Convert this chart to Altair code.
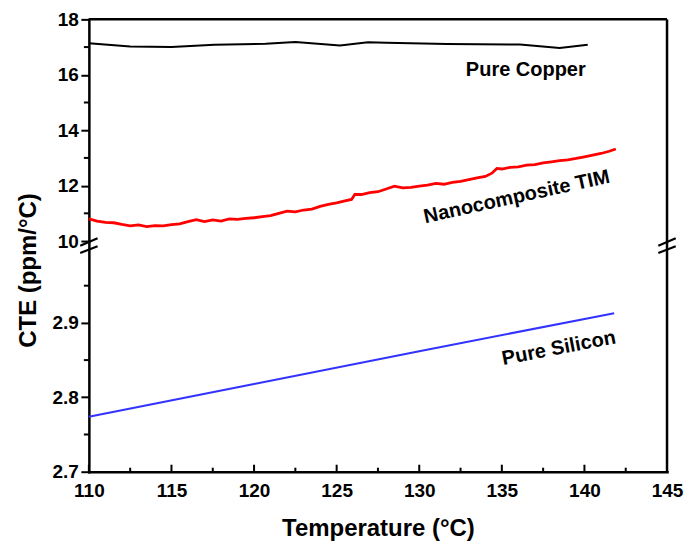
import altair as alt
import pandas as pd

FONT = "Liberation Sans, Arial, Helvetica, sans-serif"

# ---------------- data ----------------
temp_copper = [110.0, 112.5, 115.0, 117.6, 120.7, 122.5, 125.2, 126.9, 128.0, 131.7, 136.1, 138.5, 140.2]
cte_copper = [17.14, 17.02, 17.00, 17.08, 17.12, 17.18, 17.06, 17.17, 17.16, 17.11, 17.09, 16.97, 17.08]

temp_tim = [110.0, 110.5, 111.0, 111.5, 112.0, 112.5, 113.0, 113.5, 114.0, 114.5,
            115.0, 115.5, 116.0, 116.5, 117.0, 117.5, 118.0, 118.5, 119.0, 119.5,
            120.0, 120.5, 121.0, 121.5, 122.0, 122.5, 123.0, 123.5, 124.0, 124.5,
            125.0, 125.5, 125.9, 126.1, 126.5, 127.0, 127.5, 128.0, 128.5, 129.0,
            129.5, 130.0, 130.5, 131.0, 131.5, 132.0, 132.5, 133.0, 133.5, 134.0,
            134.4, 134.7, 135.0, 135.5, 136.0, 136.5, 137.0, 137.5, 138.0, 138.5,
            139.0, 139.5, 140.0, 140.5, 141.0, 141.5, 141.9]
cte_tim = [10.80, 10.72, 10.67, 10.66, 10.60, 10.55, 10.58, 10.52, 10.56, 10.55,
           10.59, 10.62, 10.70, 10.77, 10.70, 10.76, 10.72, 10.80, 10.78, 10.82,
           10.84, 10.88, 10.92, 11.00, 11.08, 11.05, 11.12, 11.15, 11.25, 11.32,
           11.38, 11.45, 11.50, 11.68, 11.68, 11.75, 11.78, 11.88, 11.98, 11.92,
           11.94, 11.98, 12.02, 12.08, 12.05, 12.12, 12.15, 12.22, 12.28, 12.33,
           12.45, 12.62, 12.60, 12.66, 12.68, 12.74, 12.76, 12.82, 12.86, 12.90,
           12.93, 12.98, 13.04, 13.10, 13.16, 13.24, 13.32]

temp_si = [110.0, 120.0, 130.0, 141.8]
cte_si = [2.774, 2.818, 2.862, 2.913]

x_major = [110, 115, 120, 125, 130, 135, 140, 145]
x_minor = [112.5, 117.5, 122.5, 127.5, 132.5, 137.5, 142.5]
y_up_major = [10, 12, 14, 16, 18]
y_up_minor = [11, 13, 15, 17]
y_lo_major = [2.7, 2.8, 2.9]
y_lo_minor = [2.75, 2.85, 2.95]

up_labels = ["Pure Copper", "Nanocomposite TIM"]
up_label_x = [136.45, 135.9]
up_label_y = [16.16, 11.59]
up_label_angle = [0, 347.6]

lo_labels = ["Pure Silicon"]
lo_label_x = [138.45]
lo_label_y = [2.866]
lo_label_angle = [349]

# ---------------- layout ----------------
W = 579
H1 = 222
H2 = 231

xscale = alt.Scale(domain=[110, 145], nice=False, zero=False)
yscale_up = alt.Scale(domain=[10, 18], nice=False, zero=False)
yscale_lo = alt.Scale(domain=[2.7, 3.01], nice=False, zero=False)

common_axis = dict(
    domainColor="black", domainWidth=2.5, domainCap="square",
    tickColor="black", tickWidth=2, tickSize=8,
    labelFont=FONT, labelFontSize=19, labelFontWeight="bold", labelColor="black",
    labelOverlap=False, grid=False,
)

yaxis_up = alt.Axis(values=y_up_major, format="d", title=None, labelPadding=2.5, **common_axis)
yaxis_lo = alt.Axis(values=y_lo_major, format=".1f", labelPadding=2.5,
                    title="CTE (ppm/°C)", titleFont=FONT, titleFontSize=24, titleFontWeight="bold",
                    titleColor="black", titleAngle=270, titleX=-53.5, titleY=29,
                    titleBaseline="alphabetic", titleAlign="center", **common_axis)
xaxis_lo = alt.Axis(values=x_major, format="d", labelPadding=10, labelFlush=False,
                    title="Temperature (°C)", titleFont=FONT, titleFontSize=24, titleFontWeight="bold",
                    titleColor="black", titleY=63.5, titleBaseline="alphabetic",
                    **{**common_axis, "tickSize": 0, "tickWidth": 0})

one = pd.DataFrame({"a": [0]})

# ---------------- upper panel ----------------
def xu(field="x"):
    return alt.X(f"{field}:Q", scale=xscale, axis=None)

def yu(field="y"):
    return alt.Y(f"{field}:Q", scale=yscale_up, axis=yaxis_up)

copper = alt.Chart(pd.DataFrame({"x": temp_copper, "y": cte_copper})).mark_line(
    color="black", strokeWidth=2).encode(x=xu(), y=yu())
tim = alt.Chart(pd.DataFrame({"x": temp_tim, "y": cte_tim})).mark_line(
    color="#ff0000", strokeWidth=2.8).encode(x=xu(), y=yu())
up_minor = alt.Chart(pd.DataFrame({"y": y_up_minor})).mark_rule(
    color="black", strokeWidth=2).encode(y=yu(), x=alt.value(-5), x2=alt.value(0))
top_border = alt.Chart(one).mark_rule(color="black", strokeWidth=2.5).encode(
    x=alt.value(0), x2=alt.value(W), y=alt.value(0))
right_border_up = alt.Chart(one).mark_rule(color="black", strokeWidth=2.5).encode(
    x=alt.value(W), y=alt.value(0), y2=alt.value(H1))
up_text = alt.Chart(pd.DataFrame({"x": up_label_x, "y": up_label_y, "t": up_labels,
                                  "ang": up_label_angle})).mark_text(
    font=FONT, fontSize=20, fontWeight="bold", color="black", align="center", baseline="middle"
).encode(x=xu(), y=yu(), text="t:N", angle=alt.Angle("ang:Q", scale=None))

upper = alt.layer(copper, tim, up_minor, top_border, right_border_up, up_text).properties(
    width=W, height=H1)

# ---------------- lower panel ----------------
def xl(field="x"):
    return alt.X(f"{field}:Q", scale=xscale, axis=xaxis_lo)

def yl(field="y"):
    return alt.Y(f"{field}:Q", scale=yscale_lo, axis=yaxis_lo)

si = alt.Chart(pd.DataFrame({"x": temp_si, "y": cte_si})).mark_line(
    color="#3333ff", strokeWidth=2).encode(x=xl(), y=yl())
lo_minor = alt.Chart(pd.DataFrame({"y": y_lo_minor})).mark_rule(
    color="black", strokeWidth=2).encode(y=yl(), x=alt.value(-5), x2=alt.value(0))
x_major_ticks = alt.Chart(pd.DataFrame({"x": x_major})).mark_rule(
    color="black", strokeWidth=2).encode(x=xl(), y=alt.value(H2), y2=alt.value(H2 - 7))
x_minor_ticks = alt.Chart(pd.DataFrame({"x": x_minor})).mark_rule(
    color="black", strokeWidth=2).encode(x=xl(), y=alt.value(H2), y2=alt.value(H2 - 4))
right_border_lo = alt.Chart(one).mark_rule(color="black", strokeWidth=2.5).encode(
    x=alt.value(W), y=alt.value(0), y2=alt.value(H2))
lo_text = alt.Chart(pd.DataFrame({"x": lo_label_x, "y": lo_label_y, "t": lo_labels,
                                  "ang": lo_label_angle})).mark_text(
    font=FONT, fontSize=20, fontWeight="bold", color="black", align="center", baseline="middle"
).encode(x=xl(), y=yl(), text="t:N", angle=alt.Angle("ang:Q", scale=None))

# axis-break slashes (decoration)
def slash(x0, y0, x1, y1):
    return alt.Chart(one).mark_rule(color="black", strokeWidth=2.2).encode(
        x=alt.value(x0), y=alt.value(y0), x2=alt.value(x1), y2=alt.value(y1))

breaks = [
    slash(-8.7, 4.7, 8.7, -2.7), slash(-8.7, 12, 8.7, 5.3),
    slash(W - 8.7, 4.7, W + 8.7, -2.7), slash(W - 8.7, 12, W + 8.7, 5.3),
]

lower = alt.layer(si, lo_minor, x_major_ticks, x_minor_ticks, right_border_lo, lo_text, *breaks).properties(
    width=W, height=H2)

chart = alt.vconcat(upper, lower, spacing=0, bounds="flush").resolve_scale(
    x="independent", y="independent"
).properties(
    padding={"left": 16, "top": 10, "right": 2, "bottom": 2},
    background="white",
).configure_view(stroke=None).configure_axis(grid=False)

chart.save("out.html", embed_options={"renderer": "svg", "actions": False})
